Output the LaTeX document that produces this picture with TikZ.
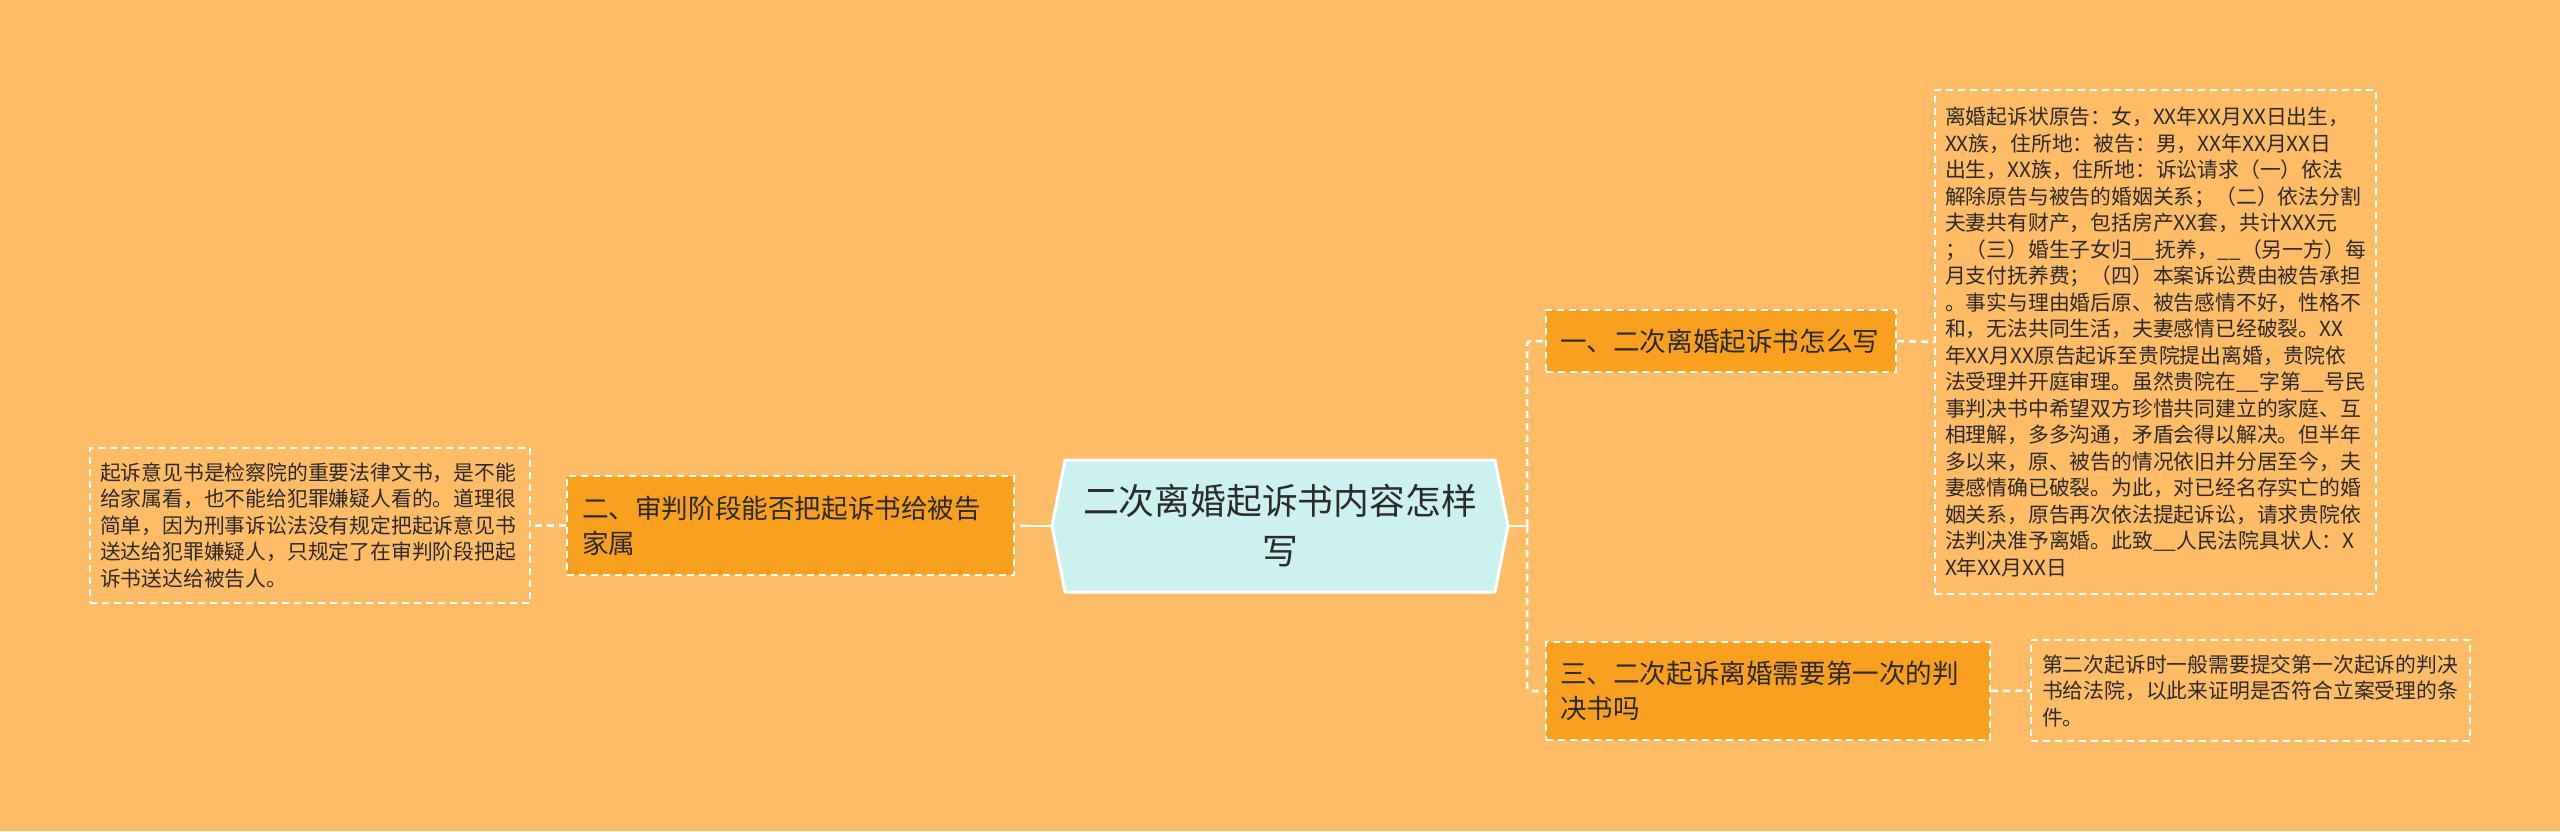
\documentclass[tikz,border=0pt]{standalone}
\usepackage{fontspec}
\setmainfont{Noto Sans CJK SC}
\usetikzlibrary{positioning, calc}

\definecolor{bgorange}{HTML}{FEBC66}
\definecolor{branchorange}{HTML}{F9A11F}
\definecolor{rootcyan}{HTML}{CCF2F0}
\definecolor{textdark}{HTML}{2B2B2B}

\begin{document}
\begin{tikzpicture}[x=1pt, y=-1pt,
    rootbox/.style={inner sep=0pt, minimum width=430pt, minimum height=132pt, align=center, text=textdark, font=\fontsize{35.8}{50}\selectfont},
    rootfill/.style={fill=rootcyan, draw=white, line width=3pt, line join=round},
    branchbox/.style={fill=branchorange, draw=white, line width=2pt, dash pattern=on 7pt off 5pt, text=textdark, align=left, inner ysep=4pt, font=\fontsize{26.6}{35}\selectfont},
    leafbox/.style={draw=white, line width=2pt, dash pattern=on 7pt off 5pt, text=textdark, align=left, inner ysep=4pt, font=\fontsize{20.8}{26.5}\selectfont},
    link/.style={draw=white, line width=2.5pt},
    dlink/.style={link, dash pattern=on 7pt off 5pt, rounded corners=4pt}
]
    % Background and size
    \fill[bgorange] (0,0) rectangle (2560,831);
    \useasboundingbox (0,0) rectangle (2560,831);

    % Root hexagon
    \coordinate (rootL) at (1052,526);
    \coordinate (rootR) at (1508,526);
    \draw[rootfill] (1065,460) -- (1495,460) -- (rootR) -- (1495,592) -- (1065,592) -- (rootL) -- cycle;
    \node[rootbox] (root) at (1280,526) {二次离婚起诉书内容怎样\\写};

    % Branches
    \node[branchbox, text width=322pt, inner xsep=14pt, minimum height=62pt] (b1) at (1721,341)
        {一、二次离婚起诉书怎么写};
    \node[branchbox, text width=417pt, inner xsep=15pt, minimum height=99pt] (b2) at (790.5,525.5)
        {二、审判阶段能否把起诉书给被告\\家属};
    \node[branchbox, text width=416pt, inner xsep=14pt, minimum height=98pt] (b3) at (1768,691)
        {三、二次起诉离婚需要第一次的判\\决书吗};

    % Leaves
    \node[leafbox, text width=421pt, inner xsep=10pt, minimum height=504pt] (leaf1) at (2155.5,342)
        {离婚起诉状原告：女，XX年XX月XX日出生，\\
         XX族，住所地：被告：男，XX年XX月XX日\\
         出生，XX族，住所地：诉讼请求（一）依法\\
         解除原告与被告的婚姻关系；（二）依法分割\\
         夫妻共有财产，包括房产XX套，共计XXX元\\
         ；（三）婚生子女归\_\_抚养，\_\_（另一方）每\\
         月支付抚养费；（四）本案诉讼费由被告承担\\
         。事实与理由婚后原、被告感情不好，性格不\\
         和，无法共同生活，夫妻感情已经破裂。XX\\
         年XX月XX原告起诉至贵院提出离婚，贵院依\\
         法受理并开庭审理。虽然贵院在\_\_字第\_\_号民\\
         事判决书中希望双方珍惜共同建立的家庭、互\\
         相理解，多多沟通，矛盾会得以解决。但半年\\
         多以来，原、被告的情况依旧并分居至今，夫\\
         妻感情确已破裂。为此，对已经名存实亡的婚\\
         姻关系，原告再次依法提起诉讼，请求贵院依\\
         法判决准予离婚。此致\_\_人民法院具状人：X\\
         X年XX月XX日};
    \node[leafbox, text width=420pt, inner xsep=10pt, minimum height=155pt] (leafL) at (310,525.5)
        {起诉意见书是检察院的重要法律文书，是不能\\
         给家属看，也不能给犯罪嫌疑人看的。道理很\\
         简单，因为刑事诉讼法没有规定把起诉意见书\\
         送达给犯罪嫌疑人，只规定了在审判阶段把起\\
         诉书送达给被告人。};
    \node[leafbox, text width=417pt, inner xsep=11pt, minimum height=101pt] (leaf3) at (2250.5,690.5)
        {第二次起诉时一般需要提交第一次起诉的判决\\
         书给法院，以此来证明是否符合立案受理的条\\
         件。};

    % Connectors
    \coordinate (forkR) at ($(rootR)+(19,0)$);
    \coordinate (forkL) at ($(rootL)+(-25,0)$);
    \draw[link] (rootR) -- (forkR);
    \draw[dlink] (forkR) |- (b1.west);
    \draw[dlink] (forkR) |- (b3.west);
    \draw[link] (rootL) -- (forkL);
    \draw[dlink] (forkL) -- (b2.east);
    \draw[dlink] (b2.west) -- (leafL.east);
    \draw[dlink] (b1.east) -- (leaf1.west);
    \draw[dlink] (b3.east) -- (leaf3.west);
\end{tikzpicture}
\end{document}
